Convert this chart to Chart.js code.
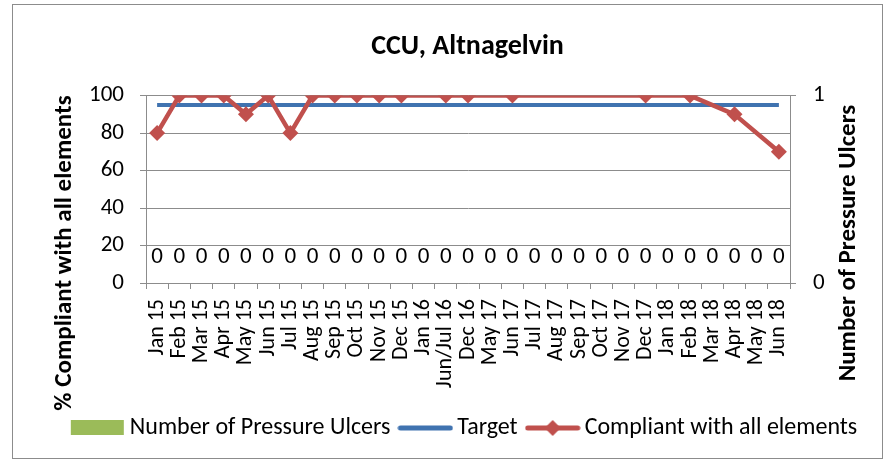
<!DOCTYPE html>
<html>
<head>
<meta charset="utf-8">
<script src="https://cdn.jsdelivr.net/npm/chart.js@4"></script>
<style>
  html, body { margin: 0; padding: 0; background: #fff; }
  #wrap { width: 893px; height: 463px; }
</style>
</head>
<body>
<div id="wrap"><canvas id="ccu-chart" width="893" height="463"></canvas></div>
<script>
// Data
const months = ['Jan 15', 'Feb 15', 'Mar 15', 'Apr 15', 'May 15', 'Jun 15', 'Jul 15',
  'Aug 15', 'Sep 15', 'Oct 15', 'Nov 15', 'Dec 15', 'Jan 16', 'Jun/Jul 16', 'Dec 16',
  'May 17', 'Jun 17', 'Jul 17', 'Aug 17', 'Sep 17', 'Oct 17', 'Nov 17', 'Dec 17',
  'Jan 18', 'Feb 18', 'Mar 18', 'Apr 18', 'May 18', 'Jun 18'];
const pressureUlcers = [0, 0, 0, 0, 0, 0, 0, 0, 0, 0, 0, 0, 0, 0, 0,
  0, 0, 0, 0, 0, 0, 0, 0, 0, 0, 0, 0, 0, 0];
const target = [95, 95, 95, 95, 95, 95, 95, 95, 95, 95, 95, 95, 95, 95, 95,
  95, 95, 95, 95, 95, 95, 95, 95, 95, 95, 95, 95, 95, 95];
const compliant = [80, 100, 100, 100, 90, 100, 80, 100, 100, 100, 100, 100, null, 100, 100,
  null, 100, null, null, null, null, null, 100, null, 100, null, 90, null, 70];
const leftTicks = [0, 20, 40, 60, 80, 100];
const rightTicks = [0, 1];

const GREEN = '#9BBB59';
const BLUE = '#4073B0';
const RED = '#C0504D';
const GREY = '#8C8C8C';
const CAL = "'Carlito', 'Liberation Sans Narrow', 'Open Sans', sans-serif";

// little pictures for the legend
function legendIcon(kind) {
  const c = document.createElement('canvas');
  c.width = 56; c.height = 18;
  const g = c.getContext('2d');
  if (kind === 'bar') {
    g.fillStyle = GREEN;
    g.fillRect(1, 1, 53, 15);
  } else {
    g.strokeStyle = kind === 'target' ? BLUE : RED;
    g.lineWidth = 5;
    g.lineCap = 'round';
    g.beginPath(); g.moveTo(3, 9); g.lineTo(53, 9); g.stroke();
    if (kind === 'diamond') {
      g.fillStyle = RED;
      g.beginPath();
      g.moveTo(28, 1); g.lineTo(36, 9); g.lineTo(28, 17); g.lineTo(20, 9);
      g.closePath(); g.fill();
    }
  }
  return c;
}
const icons = [legendIcon('bar'), legendIcon('target'), legendIcon('diamond')];

// Border, "0" labels over the bars, axis titles
const extras = {
  id: 'extras',
  beforeDraw(chart) {
    const ctx = chart.ctx;
    ctx.save();
    ctx.strokeStyle = GREY;
    ctx.lineWidth = 1;
    ctx.strokeRect(12.5, 4.5, 870, 454);
    ctx.restore();
  },
  afterDatasetsDraw(chart) {
    const ctx = chart.ctx;
    ctx.save();
    ctx.fillStyle = '#000';
    ctx.textAlign = 'center';
    ctx.textBaseline = 'middle';
    ctx.font = '23px ' + CAL;
    chart.getDatasetMeta(0).data.forEach((bar, i) => {
      ctx.fillText(String(pressureUlcers[i]), bar.x, bar.y - 26);
    });

    ctx.font = 'bold 25px ' + CAL;
    ctx.translate(65, 253);
    ctx.rotate(-Math.PI / 2);
    ctx.fillText('% Compliant with all elements', 0, 0);
    ctx.restore();

    ctx.save();
    ctx.fillStyle = '#000';
    ctx.textAlign = 'center';
    ctx.textBaseline = 'middle';
    ctx.font = 'bold 25px ' + CAL;
    ctx.translate(849, 243);
    ctx.rotate(-Math.PI / 2);
    ctx.fillText('Number of Pressure Ulcers', 0, 0);
    ctx.restore();
  }
};

const ccuChart = new Chart(document.getElementById('ccu-chart'), {
  type: 'bar',
  data: {
    labels: months,
    datasets: [{
      type: 'bar',
      label: 'Number of Pressure Ulcers',
      data: pressureUlcers,
      backgroundColor: GREEN,
      borderWidth: 0,
      yAxisID: 'y1',
      order: 3
    }, {
      type: 'line',
      label: 'Target',
      data: target,
      borderColor: BLUE,
      backgroundColor: BLUE,
      borderWidth: 4,
      pointRadius: 0,
      yAxisID: 'y',
      order: 2
    }, {
      type: 'line',
      label: 'Compliant with all elements',
      data: compliant,
      borderColor: RED,
      backgroundColor: RED,
      borderWidth: 4.5,
      pointStyle: 'rectRot',
      pointRadius: 8,
      pointBorderWidth: 0,
      spanGaps: true,
      yAxisID: 'y',
      order: 1
    }]
  },
  options: {
    responsive: false,
    animation: false,
    layout: {
      padding: { left: 46, right: 4, top: 20, bottom: 13 }
    },
    plugins: {
      tooltip: { enabled: false },
      title: {
        display: true,
        text: 'CCU, Altnagelvin',
        color: '#000',
        font: { family: CAL, size: 28, weight: 'bold' },
        padding: { top: 10, bottom: 32 }
      },
      legend: {
        position: 'bottom',
        labels: {
          color: '#000',
          font: { family: CAL, size: 24 },
          usePointStyle: true,
          pointStyleWidth: 40,
          padding: 15,
          generateLabels(chart) {
            return chart.data.datasets.map((ds, i) => ({
              text: ds.label,
              pointStyle: icons[i],
              fontColor: '#000',
              lineWidth: 0,
              hidden: false,
              datasetIndex: i
            }));
          }
        }
      }
    },
    scales: {
      x: {
        offset: true,
        grid: { offset: true, drawOnChartArea: false, drawTicks: true, tickLength: 6, color: GREY },
        border: { color: GREY },
        ticks: {
          autoSkip: false,
          minRotation: 90,
          maxRotation: 90,
          padding: 10,
          color: '#000',
          font: { family: CAL, size: 22 }
        },
        afterFit(scale) { scale.height = 118; }
      },
      y: {
        position: 'left',
        min: 0,
        max: 100,
        afterBuildTicks(scale) { scale.ticks = leftTicks.map(v => ({ value: v })); },
        grid: { color: GREY, tickLength: 6 },
        border: { color: GREY },
        ticks: {
          padding: 16,
          color: '#000',
          font: { family: CAL, size: 23 }
        },
        afterFit(scale) { scale.width = 100; }
      },
      y1: {
        position: 'right',
        min: 0,
        max: 1,
        afterBuildTicks(scale) { scale.ticks = rightTicks.map(v => ({ value: v })); },
        grid: { drawOnChartArea: false, color: GREY, tickLength: 6 },
        border: { color: GREY },
        ticks: {
          padding: 17,
          color: '#000',
          font: { family: CAL, size: 23 }
        },
        afterFit(scale) { scale.width = 99; }
      }
    }
  },
  plugins: [extras]
});
</script>
</body>
</html>
